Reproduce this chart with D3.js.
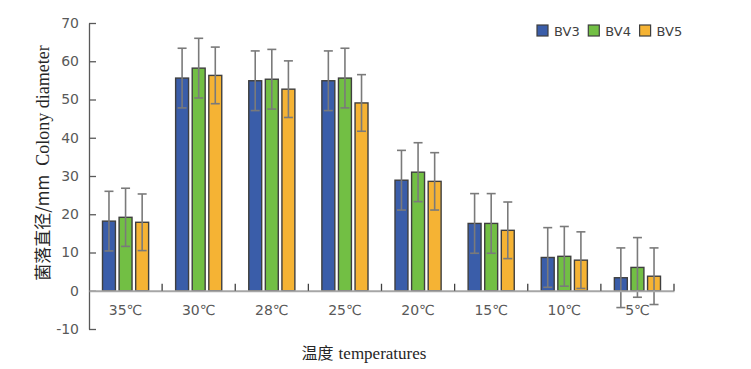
<!DOCTYPE html>
<html>
<head>
<meta charset="utf-8">
<script src="https://cdn.jsdelivr.net/npm/d3@7"></script>
<style>
  body { margin: 0; background: #fff; }
  svg { display: block; }
</style>
</head>
<body>
<svg id="chart" width="751" height="369"></svg>
<script>
const categories = ['35℃', '30℃', '28℃', '25℃', '20℃', '15℃', '10℃', '5℃'];
const seriesNames = ['BV3', 'BV4', 'BV5'];
const bv3 = [18.2, 55.6, 54.9, 54.9, 28.9, 17.6, 8.7, 3.4];
const bv4 = [19.2, 58.2, 55.3, 55.6, 31.0, 17.6, 9.0, 6.1];
const bv5 = [17.9, 56.3, 52.7, 49.1, 28.6, 15.8, 8.0, 3.8];
const bv3Err = [7.8, 7.8, 7.8, 7.8, 7.8, 7.8, 7.8, 7.8];
const bv4Err = [7.6, 7.8, 7.8, 7.8, 7.7, 7.8, 7.8, 7.8];
const bv5Err = [7.4, 7.4, 7.4, 7.4, 7.5, 7.4, 7.4, 7.4];
const yTicks = [-10, 0, 10, 20, 30, 40, 50, 60, 70];

const colors = ['#3a5da9', '#72bf44', '#f5b334'];

const svg = d3.select('#chart');
const margin = { top: 23, right: 77, bottom: 40, left: 89 };
const width = 751 - margin.left - margin.right;
const height = 329 - margin.top;

const g = svg.append('g').attr('transform', `translate(${margin.left},${margin.top})`);

const x = d3.scaleBand().domain(categories).range([0, width]).paddingInner(0).paddingOuter(0);
const x1 = d3.scaleBand().domain(seriesNames).range([13.5, x.bandwidth() - 13.5]).paddingInner(0.22).paddingOuter(0);
const y = d3.scaleLinear().domain([-10, 70]).range([height, 0]);

const series = [bv3, bv4, bv5].map((vals, s) => ({
  name: seriesNames[s],
  color: colors[s],
  values: vals.map((v, i) => ({ cat: categories[i], v, err: [bv3Err, bv4Err, bv5Err][s][i] }))
}));

// Y axis
const yAxis = g.append('g')
  .call(d3.axisLeft(y).tickValues(yTicks).tickFormat(d => String(d)).tickSize(-7).tickPadding(10).tickSizeOuter(0));
yAxis.select('.domain').attr('stroke', '#595959').attr('stroke-width', 1.3);
yAxis.selectAll('.tick line').attr('stroke', '#595959').attr('stroke-width', 1.3);
yAxis.selectAll('.tick text')
  .attr('font-family', 'DejaVu Sans, sans-serif')
  .attr('font-size', '14px')
  .attr('fill', '#595959');

// bars
const groups = g.selectAll('.series')
  .data(series)
  .join('g')
  .attr('class', 'series');

groups.selectAll('rect')
  .data(d => d.values.map(v => ({ ...v, name: d.name, color: d.color })))
  .join('rect')
  .attr('x', d => x(d.cat) + x1(d.name))
  .attr('y', d => y(Math.max(0, d.v)))
  .attr('width', x1.bandwidth())
  .attr('height', d => Math.abs(y(d.v) - y(0)))
  .attr('fill', d => d.color)
  .attr('stroke', '#3f3f3f')
  .attr('stroke-width', 1.4);

// X axis at zero
const xAxis = g.append('g')
  .attr('transform', `translate(0,${y(0)})`)
  .call(d3.axisBottom(x).tickSize(0).tickPadding(14));
xAxis.select('.domain').attr('stroke', '#a6a6a6').attr('stroke-width', 2);
xAxis.selectAll('.tick text')
  .attr('font-family', 'DejaVu Sans, sans-serif')
  .attr('font-size', '14px')
  .attr('fill', '#595959');

// category separator ticks
g.append('g')
  .selectAll('line')
  .data(categories)
  .join('line')
  .attr('x1', d => x(d) + x.bandwidth())
  .attr('x2', d => x(d) + x.bandwidth())
  .attr('y1', y(0))
  .attr('y2', y(0) - 7)
  .attr('stroke', '#404040')
  .attr('stroke-width', 1.3);

// error bars
const errG = groups.selectAll('.err')
  .data(d => d.values.map(v => ({ ...v, name: d.name })))
  .join('g')
  .attr('class', 'err')
  .attr('stroke', '#7a7a7a')
  .attr('stroke-width', 1.6);

errG.append('line')
  .attr('x1', d => x(d.cat) + x1(d.name) + x1.bandwidth() / 2)
  .attr('x2', d => x(d.cat) + x1(d.name) + x1.bandwidth() / 2)
  .attr('y1', d => y(d.v + d.err))
  .attr('y2', d => y(d.v - d.err));

errG.selectAll('.cap')
  .data(d => [d.v + d.err, d.v - d.err].map(t => ({ t, cx: x(d.cat) + x1(d.name) + x1.bandwidth() / 2 })))
  .join('line')
  .attr('class', 'cap')
  .attr('x1', d => d.cx - 4.5)
  .attr('x2', d => d.cx + 4.5)
  .attr('y1', d => y(d.t))
  .attr('y2', d => y(d.t));

// legend
const legend = svg.append('g').attr('transform', 'translate(537,25)');
const legItems = legend.selectAll('g')
  .data(series)
  .join('g')
  .attr('transform', (d, i) => `translate(${i * 51.3},0)`);
legItems.append('rect')
  .attr('width', 11)
  .attr('height', 11)
  .attr('fill', d => d.color)
  .attr('stroke', '#3f3f3f')
  .attr('stroke-width', 1.2);
legItems.append('text')
  .attr('x', 17)
  .attr('y', 10.5)
  .attr('font-family', 'DejaVu Sans, sans-serif')
  .attr('font-size', '13px')
  .attr('fill', '#404040')
  .text(d => d.name);

// axis titles
svg.append('text')
  .attr('transform', `translate(49,${(53 + 273) / 2}) rotate(-90)`)
  .attr('text-anchor', 'middle')
  .attr('fill', '#262626')
  .attr('font-size', '17px')
  .call(t => {
    t.append('tspan').attr('font-family', 'Noto Sans CJK SC').text('菌落直径/mm');
    t.append('tspan').attr('font-family', 'Liberation Serif, serif').attr('dx', 9).attr('font-size', '18px').text('Colony diameter');
  });

svg.append('text')
  .attr('x', 364)
  .attr('y', 359)
  .attr('text-anchor', 'middle')
  .attr('fill', '#262626')
  .attr('font-size', '16px')
  .call(t => {
    t.append('tspan').attr('font-family', 'Noto Sans CJK SC').text('温度');
    t.append('tspan').attr('font-family', 'Liberation Serif, serif').attr('dx', 5).attr('font-size', '17px').text('temperatures');
  });
</script>
</body>
</html>
